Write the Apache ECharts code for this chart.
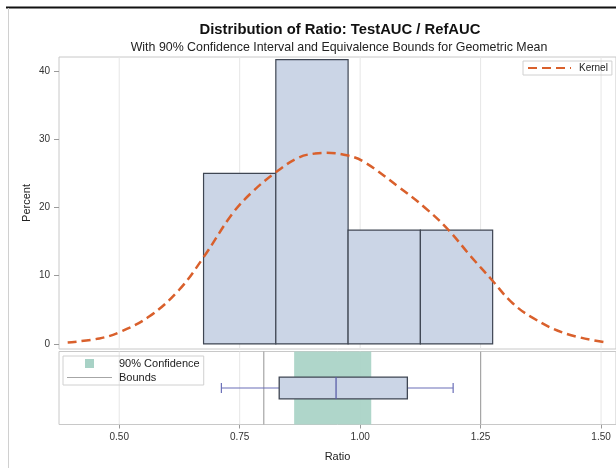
<!DOCTYPE html>
<html><head><meta charset="utf-8">
<script src="https://cdn.jsdelivr.net/npm/echarts@6/dist/echarts.min.js"></script>
<style>html,body{margin:0;padding:0;background:#fff}#c{width:616px;height:468px}</style>
</head><body><div id="c"></div>
<script>
// ---- data ----
const binStarts = [0.675, 0.825, 0.975, 1.125];
const binEnds   = [0.825, 0.975, 1.125, 1.275];
const percents  = [25, 41.67, 16.67, 16.67];

const kernelX = [0.393, 0.459, 0.500, 0.562, 0.624, 0.676, 0.734, 0.775, 0.824, 0.872, 0.906, 0.930,
                 0.975, 1.010, 1.078, 1.134, 1.182, 1.230, 1.273, 1.313, 1.354, 1.423, 1.506];
const kernelY = [0.2, 0.8, 1.7, 4.0, 7.9, 12.8, 19.0, 22.2, 25.1, 27.3, 27.9, 28.0,
                 27.6, 26.6, 23.1, 20.0, 16.8, 12.8, 9.4, 6.2, 4.0, 1.6, 0.25];

const xTicks = [0.5, 0.75, 1.0, 1.25, 1.5];
const yTicks = [0, 10, 20, 30, 40];

const boxStats = [0.712, 0.832, 0.950, 1.098, 1.193]; // whisker low, Q1, median, Q3, whisker high
const ciBounds = [0.863, 1.023];                       // 90% confidence interval
const equivBounds = [0.80, 1.25];                      // equivalence bounds

// ---- chart ----
const chart = echarts.init(document.getElementById('c'));
const FONT = 'Liberation Sans, Arial, sans-serif';
const X_MIN = 0.375, X_MAX = 1.531;

function gridLines(params, api) {
  const x = api.coord([api.value(0), 0])[0];
  const cs = params.coordSys;
  return { type: 'line', shape: { x1: x, y1: cs.y, x2: x, y2: cs.y + cs.height },
           style: { stroke: '#e6e6e6', lineWidth: 1 } };
}

const option = {
  animation: false,
  backgroundColor: '#fff',
  textStyle: { fontFamily: FONT },
  title: [
    { text: 'Distribution of Ratio: TestAUC / RefAUC', left: 335, top: 17, textAlign: 'center',
      textStyle: { fontSize: 14.8, fontWeight: 'bold', color: '#111', fontFamily: FONT } },
    { text: 'With 90% Confidence Interval and Equivalence Bounds for Geometric Mean', left: 334, top: 37, textAlign: 'center',
      textStyle: { fontSize: 12.4, fontWeight: 'normal', color: '#222', fontFamily: FONT } }
  ],
  graphic: [
    { type: 'line', shape: { x1: 6, y1: 7.5, x2: 616, y2: 7.5 }, style: { stroke: '#111', lineWidth: 2 } },
    { type: 'line', shape: { x1: 8.5, y1: 8, x2: 8.5, y2: 468 }, style: { stroke: '#d0d0d0', lineWidth: 1 } }
  ],
  legend: [
    { data: ['Kernel'], left: 523, top: 61, orient: 'horizontal',
      itemWidth: 43, itemHeight: 10, padding: [2, 4, 2, 4],
      itemStyle: { opacity: 0 },
      borderColor: '#d0d0d0', borderWidth: 1, borderRadius: 0,
      textStyle: { fontSize: 10, color: '#222', fontFamily: FONT, padding: [0, 0, 0, 3] } },
    { data: [ { name: '90% Confidence', icon: 'path://M0,0h10v10h-10z' },
              { name: 'Bounds', icon: 'path://M0,0h45v1h-45z' } ],
      left: 63, top: 356, orient: 'vertical', itemWidth: 45, itemHeight: 9, itemGap: 3,
      padding: [2, 4, 2, 4], borderColor: '#d0d0d0', borderWidth: 1, borderRadius: 0,
      textStyle: { fontSize: 11, color: '#222', fontFamily: FONT, padding: [0, 0, 0, 2] } }
  ],
  grid: [
    { left: 59, top: 57, width: 560, height: 292, show: true, borderColor: '#c8c8c8', borderWidth: 1, backgroundColor: 'transparent' },
    { left: 59, top: 351.5, width: 560, height: 73, show: true, borderColor: '#c8c8c8', borderWidth: 1, backgroundColor: 'transparent' }
  ],
  xAxis: [
    { gridIndex: 0, type: 'value', min: X_MIN, max: X_MAX,
      axisLine: { show: false }, axisTick: { show: false }, axisLabel: { show: false }, splitLine: { show: false } },
    { gridIndex: 1, type: 'value', min: X_MIN, max: X_MAX,
      axisLine: { show: false },
      axisTick: { show: true, length: 4, lineStyle: { color: '#9a9a9a' }, customValues: xTicks },
      axisLabel: { show: true, customValues: xTicks, margin: 8, fontSize: 10, color: '#333',
                   formatter: v => v.toFixed(2) },
      splitLine: { show: false },
      name: 'Ratio', nameLocation: 'middle', nameGap: 27, nameMoveOverlap: false,
      nameTextStyle: { fontSize: 11, color: '#222', fontFamily: FONT } }
  ],
  yAxis: [
    { gridIndex: 0, type: 'value', min: -0.75, max: 42.05,
      axisLine: { show: false },
      axisTick: { show: true, length: 5, lineStyle: { color: '#9a9a9a' }, customValues: yTicks },
      axisLabel: { show: true, customValues: yTicks, margin: 9, fontSize: 10, color: '#333' },
      splitLine: { show: false },
      name: 'Percent', nameLocation: 'middle', nameGap: 27, nameRotate: 90, nameMoveOverlap: false,
      nameTextStyle: { fontSize: 11, color: '#222', fontFamily: FONT } },
    { gridIndex: 1, type: 'value', min: 0, max: 1, show: false,
      axisLine: { show: false }, axisTick: { show: false }, axisLabel: { show: false }, splitLine: { show: false } }
  ],
  series: [
    // grid lines, histogram panel
    { type: 'custom', xAxisIndex: 0, yAxisIndex: 0, z: 1, silent: true,
      data: xTicks.map(v => [v, 0]), encode: { x: 0, y: 1 }, renderItem: gridLines },
    // histogram bars
    { type: 'custom', name: 'Histogram', xAxisIndex: 0, yAxisIndex: 0, z: 2,
      data: binStarts.map((s, i) => [s, binEnds[i], percents[i]]),
      encode: { x: [0, 1], y: 2 },
      renderItem: (params, api) => {
        const p0 = api.coord([api.value(0), 0]);
        const p1 = api.coord([api.value(1), api.value(2)]);
        return { type: 'rect',
          shape: { x: p0[0], y: p1[1], width: p1[0] - p0[0], height: p0[1] - p1[1] },
          style: { fill: '#cbd5e6', stroke: '#3f4653', lineWidth: 1.2 } };
      } },
    // kernel density
    { type: 'line', name: 'Kernel', xAxisIndex: 0, yAxisIndex: 0, z: 3,
      data: kernelX.map((x, i) => [x, kernelY[i]]),
      smooth: 0.4, symbol: 'none', showSymbol: false,
      itemStyle: { color: '#d9602c' },
      lineStyle: { color: '#d9602c', width: 2.5, type: [9, 5] } },
    // grid lines, box panel
    { type: 'custom', xAxisIndex: 1, yAxisIndex: 1, z: 1, silent: true,
      data: xTicks.map(v => [v, 0]), encode: { x: 0, y: 1 }, renderItem: gridLines },
    // 90% confidence band
    { type: 'custom', name: '90% Confidence', xAxisIndex: 1, yAxisIndex: 1, z: 2,
      itemStyle: { color: '#a8d2c6' },
      data: [[ciBounds[0], ciBounds[1]]], encode: { x: [0, 1] },
      renderItem: (params, api) => {
        const a = api.coord([api.value(0), 1]);
        const b = api.coord([api.value(1), 0]);
        return { type: 'rect', shape: { x: a[0], y: a[1], width: b[0] - a[0], height: b[1] - a[1] },
                 style: { fill: '#a8d2c6', opacity: 0.92 } };
      } },
    // equivalence bounds
    { type: 'custom', name: 'Bounds', xAxisIndex: 1, yAxisIndex: 1, z: 3,
      itemStyle: { color: '#a6a6a6' },
      data: equivBounds.map(v => [v, 0]), encode: { x: 0, y: 1 },
      renderItem: (params, api) => {
        const x = api.coord([api.value(0), 0])[0];
        const cs = params.coordSys;
        return { type: 'line', shape: { x1: x, y1: cs.y, x2: x, y2: cs.y + cs.height },
                 style: { stroke: '#a6a6a6', lineWidth: 1.2 } };
      } },
    // box plot
    { type: 'custom', name: 'Box', xAxisIndex: 1, yAxisIndex: 1, z: 4,
      data: [boxStats], encode: { x: [0, 1, 2, 3, 4] },
      renderItem: (params, api) => {
        const v = [0, 1, 2, 3, 4].map(i => api.value(i));
        const yc = 0.5, hb = 0.15, hc = 0.07;
        const c = (x, y) => api.coord([x, y]);
        const whisk = '#6a6fb8';
        const lo = c(v[0], yc), q1 = c(v[1], yc), md = c(v[2], yc), q3 = c(v[3], yc), hi = c(v[4], yc);
        const top = c(v[1], yc + hb)[1], bot = c(v[1], yc - hb)[1];
        const capT = c(v[0], yc + hc)[1], capB = c(v[0], yc - hc)[1];
        return { type: 'group', children: [
          { type: 'line', shape: { x1: lo[0], y1: lo[1], x2: q1[0], y2: q1[1] }, style: { stroke: whisk, lineWidth: 1.2 } },
          { type: 'line', shape: { x1: q3[0], y1: q3[1], x2: hi[0], y2: hi[1] }, style: { stroke: whisk, lineWidth: 1.2 } },
          { type: 'line', shape: { x1: lo[0], y1: capT, x2: lo[0], y2: capB }, style: { stroke: whisk, lineWidth: 1.2 } },
          { type: 'line', shape: { x1: hi[0], y1: capT, x2: hi[0], y2: capB }, style: { stroke: whisk, lineWidth: 1.2 } },
          { type: 'rect', shape: { x: q1[0], y: top, width: q3[0] - q1[0], height: bot - top },
            style: { fill: '#cbd5e6', stroke: '#3f4653', lineWidth: 1.3 } },
          { type: 'line', shape: { x1: md[0], y1: top, x2: md[0], y2: bot }, style: { stroke: '#5a5fa8', lineWidth: 1.3 } }
        ] };
      } }
  ]
};
chart.setOption(option);
</script>
</body></html>
